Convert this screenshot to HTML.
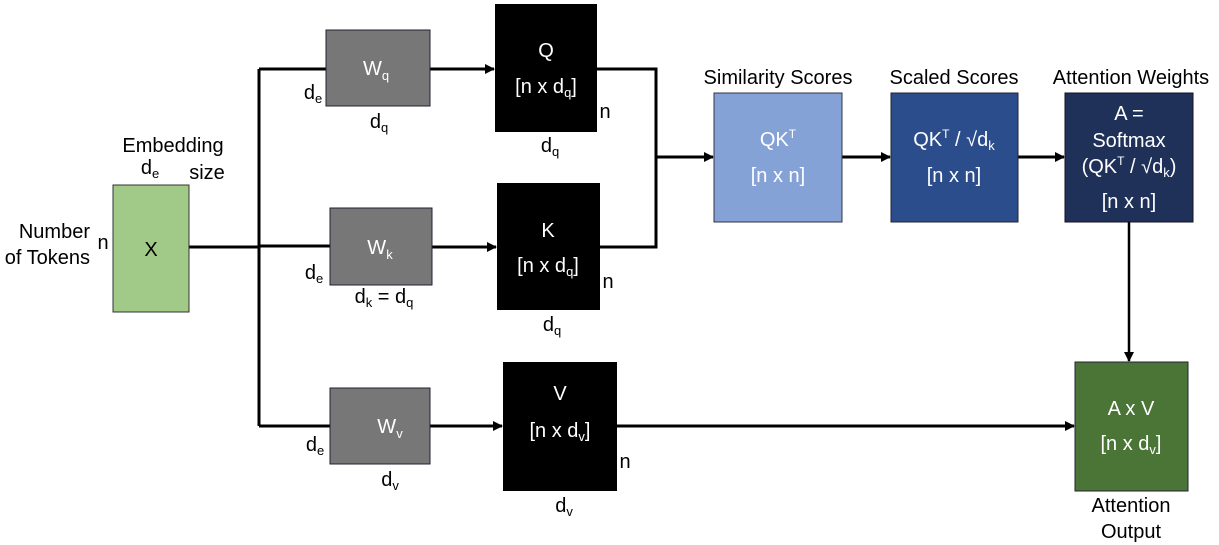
<!DOCTYPE html>
<html><head><meta charset="utf-8"><style>
body{margin:0;background:#fff}
svg{display:block}
text{font-family:"Liberation Sans",sans-serif;font-size:20px}
.w{fill:#fff}
</style></head><body>
<svg width="1219" height="545" viewBox="0 0 1219 545">
<defs><marker id="ar" markerWidth="10" markerHeight="10" refX="9" refY="5" orient="auto" markerUnits="userSpaceOnUse"><path d="M0,0 L10,5 L0,10 Z" fill="#000"/></marker></defs>
<g stroke="#000" stroke-width="3" fill="none">
<path d="M189,247 H259 M259,69 V426 M259,69 H326 M259,246 H330 M259,426 H330"/>
<path d="M430,69 H494" marker-end="url(#ar)"/>
<path d="M432,247 H496" marker-end="url(#ar)"/>
<path d="M597,69 H656 V247 H600"/>
<path d="M656,157 H713" marker-end="url(#ar)"/>
<path d="M842,157 H890" marker-end="url(#ar)"/>
<path d="M1018,157 H1064" marker-end="url(#ar)"/>
<path d="M430,426 H502" marker-end="url(#ar)"/>
<path d="M617,426 H1074" marker-end="url(#ar)"/>
<path d="M1129,222 V361" stroke-width="2.5" marker-end="url(#ar)"/>
</g>
<g>
<rect x="113" y="185" width="76" height="127" fill="#a1c987" stroke="#333" stroke-width="1"/>
<text x="151" y="256" text-anchor="middle">X</text>
<text x="173" y="152" text-anchor="middle">Embedding</text>
<text x="207" y="179" text-anchor="middle">size</text>
<text x="150" y="174" text-anchor="middle">d<tspan font-size="13" dy="4">e</tspan></text>
<text x="90" y="238" text-anchor="end">Number</text>
<text x="90" y="264" text-anchor="end">of Tokens</text>
<text x="103" y="249" text-anchor="middle">n</text>
</g>
<g>
<rect x="326" y="30" width="104" height="76" fill="#777" stroke="#223" stroke-width="1"/>
<text class="w" x="376" y="75" text-anchor="middle">W<tspan font-size="13" dy="5">q</tspan></text>
<text x="313" y="99" text-anchor="middle">d<tspan font-size="13" dy="4">e</tspan></text>
<text x="379" y="128" text-anchor="middle">d<tspan font-size="13" dy="4">q</tspan></text>
</g>
<g>
<rect x="330" y="208" width="102" height="77" fill="#777" stroke="#223" stroke-width="1"/>
<text class="w" x="380" y="254" text-anchor="middle">W<tspan font-size="13" dy="5">k</tspan></text>
<text x="314" y="279" text-anchor="middle">d<tspan font-size="13" dy="4">e</tspan></text>
<text x="384" y="303" text-anchor="middle">d<tspan font-size="13" dy="4">k</tspan><tspan dy="-4"> = d</tspan><tspan font-size="13" dy="4">q</tspan></text>
</g>
<g>
<rect x="330" y="388" width="100" height="76" fill="#777" stroke="#223" stroke-width="1"/>
<text class="w" x="390" y="433" text-anchor="middle">W<tspan font-size="13" dy="5">v</tspan></text>
<text x="315" y="451" text-anchor="middle">d<tspan font-size="13" dy="4">e</tspan></text>
<text x="390" y="486" text-anchor="middle">d<tspan font-size="13" dy="4">v</tspan></text>
</g>
<g>
<rect x="495" y="4" width="102" height="128" fill="#000"/>
<text class="w" x="546" y="57" text-anchor="middle">Q</text>
<text class="w" x="546" y="93" text-anchor="middle">[n x d<tspan font-size="13" dy="4">q</tspan><tspan dy="-4">]</tspan></text>
<text x="605" y="118" text-anchor="middle">n</text>
<text x="550" y="152" text-anchor="middle">d<tspan font-size="13" dy="4">q</tspan></text>
</g>
<g>
<rect x="497" y="183" width="103" height="127" fill="#000"/>
<text class="w" x="548" y="237" text-anchor="middle">K</text>
<text class="w" x="548" y="272" text-anchor="middle">[n x d<tspan font-size="13" dy="4">q</tspan><tspan dy="-4">]</tspan></text>
<text x="608" y="288" text-anchor="middle">n</text>
<text x="552" y="331" text-anchor="middle">d<tspan font-size="13" dy="4">q</tspan></text>
</g>
<g>
<rect x="503" y="362" width="114" height="129" fill="#000"/>
<text class="w" x="560" y="400" text-anchor="middle">V</text>
<text class="w" x="560" y="437" text-anchor="middle">[n x d<tspan font-size="13" dy="4">v</tspan><tspan dy="-4">]</tspan></text>
<text x="625" y="468" text-anchor="middle">n</text>
<text x="564" y="512" text-anchor="middle">d<tspan font-size="13" dy="4">v</tspan></text>
</g>
<g>
<text x="778" y="84" text-anchor="middle">Similarity Scores</text>
<rect x="714" y="93" width="128" height="129" fill="#85a2d6" stroke="#334" stroke-width="1"/>
<text class="w" x="778" y="146" text-anchor="middle">QK<tspan font-size="12" dy="-8">T</tspan></text>
<text class="w" x="778" y="182" text-anchor="middle">[n x n]</text>
</g>
<g>
<text x="954" y="84" text-anchor="middle">Scaled Scores</text>
<rect x="891" y="93" width="127" height="129" fill="#2c4d8b" stroke="#223" stroke-width="1"/>
<text class="w" x="954" y="146" text-anchor="middle">QK<tspan font-size="12" dy="-8">T</tspan><tspan dy="8"> / √d</tspan><tspan font-size="13" dy="4">k</tspan></text>
<text class="w" x="954" y="182" text-anchor="middle">[n x n]</text>
</g>
<g>
<text x="1131" y="84" text-anchor="middle">Attention Weights</text>
<rect x="1065" y="93" width="128" height="129" fill="#1f3158" stroke="#112" stroke-width="1"/>
<text class="w" x="1129" y="120" text-anchor="middle">A =</text>
<text class="w" x="1129" y="147" text-anchor="middle">Softmax</text>
<text class="w" x="1129" y="173" text-anchor="middle">(QK<tspan font-size="12" dy="-8">T</tspan><tspan dy="8"> / √d</tspan><tspan font-size="13" dy="4">k</tspan><tspan dy="-4">)</tspan></text>
<text class="w" x="1129" y="208" text-anchor="middle">[n x n]</text>
</g>
<g>
<rect x="1075" y="362" width="113" height="129" fill="#4a7536" stroke="#223" stroke-width="1"/>
<text class="w" x="1131" y="415" text-anchor="middle">A x V</text>
<text class="w" x="1131" y="450" text-anchor="middle">[n x d<tspan font-size="13" dy="4">v</tspan><tspan dy="-4">]</tspan></text>
<text x="1131" y="512" text-anchor="middle">Attention</text>
<text x="1131" y="538" text-anchor="middle">Output</text>
</g>
</svg>
</body></html>
